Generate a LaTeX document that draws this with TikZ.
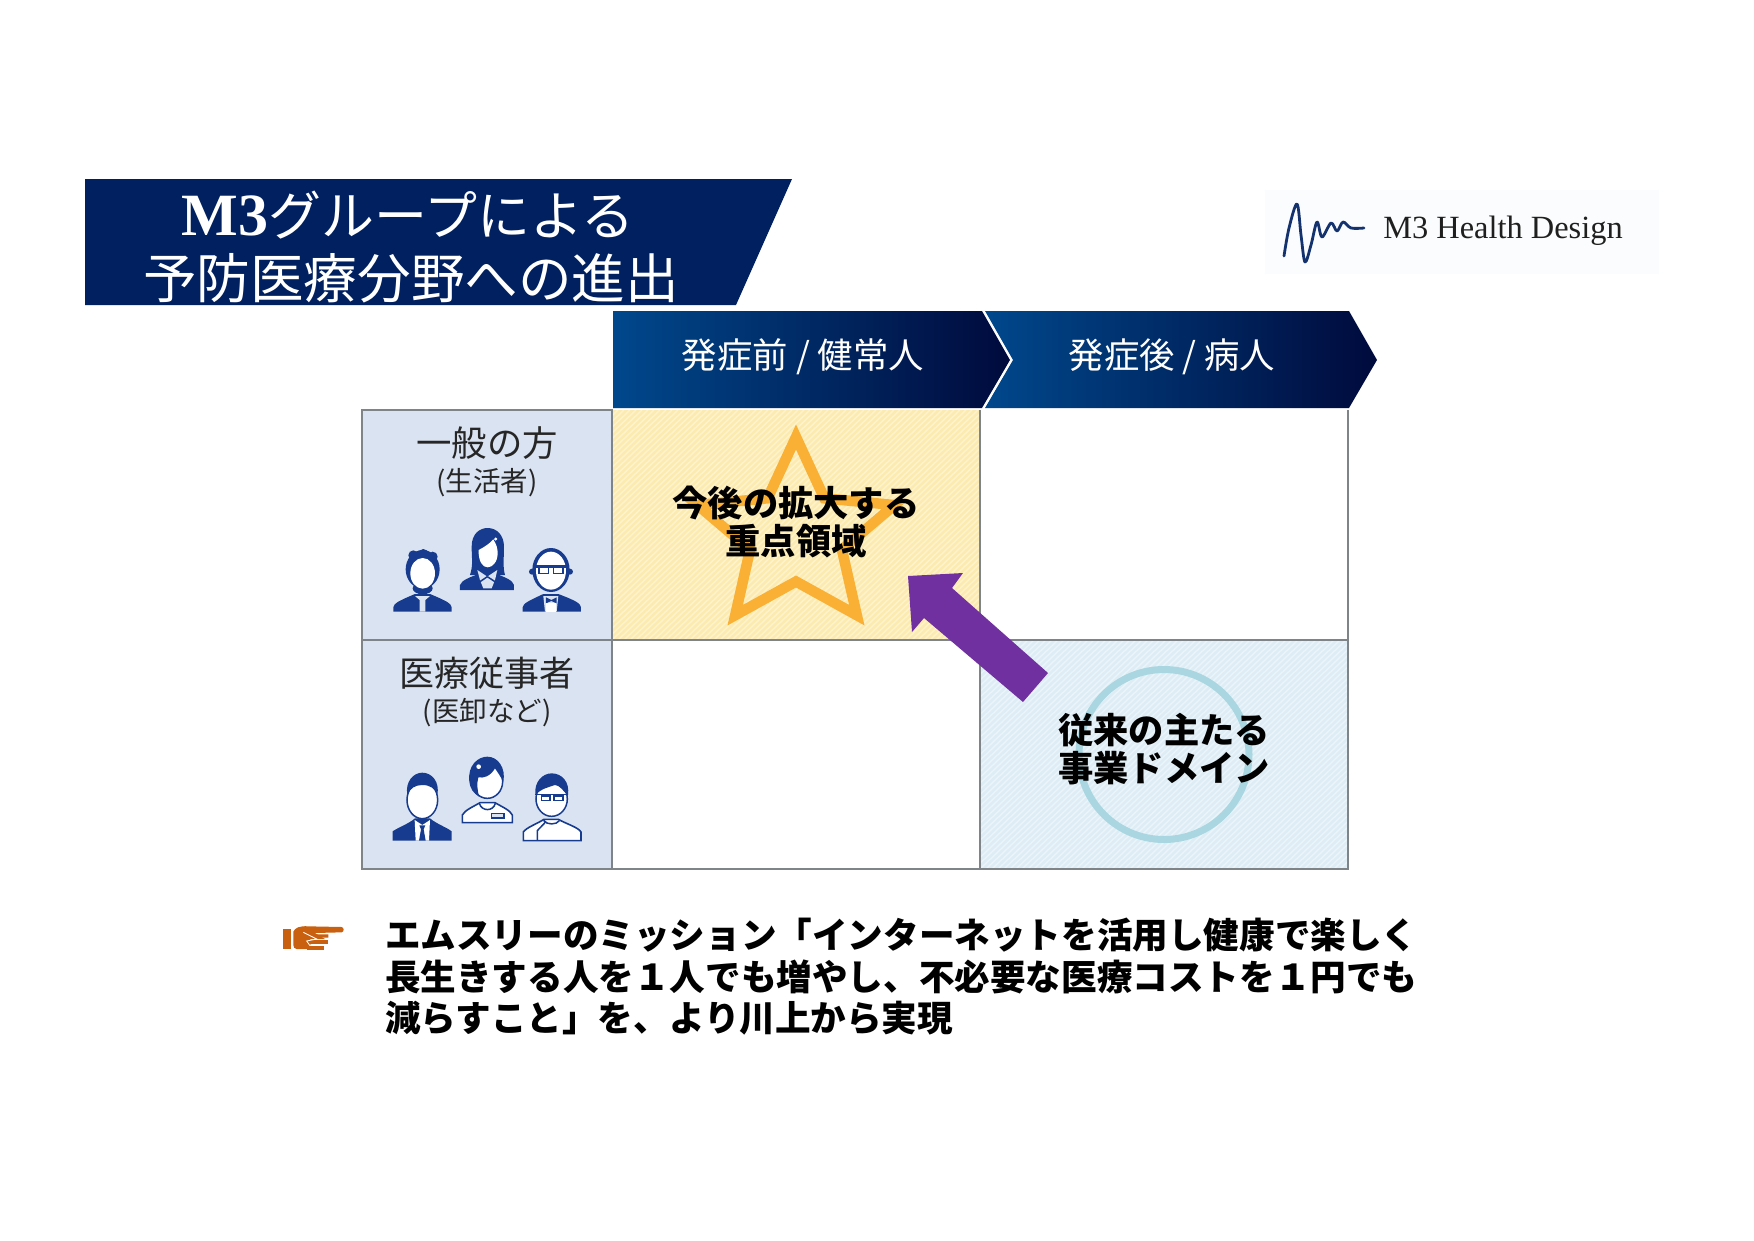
\documentclass[tikz,border=0pt]{standalone}
\usepackage{fontspec}
\setmainfont{Noto Sans CJK JP}
\newfontfamily\logofont{Liberation Serif}
\usetikzlibrary{calc}
\definecolor{banner}{HTML}{00205F}
\definecolor{chevA}{HTML}{00488C}
\definecolor{chevB}{HTML}{003070}
\definecolor{chevC}{HTML}{000A3C}
\definecolor{gridline}{HTML}{7F8488}
\definecolor{headcell}{HTML}{DAE3F1}
\definecolor{yellowcell}{HTML}{FCEBB0}
\definecolor{yellowline}{HTML}{FFF3CC}
\definecolor{bluecell}{HTML}{DEEDF5}
\definecolor{blueline}{HTML}{EAF4F9}
\definecolor{starcol}{HTML}{FAB034}
\definecolor{ringcol}{HTML}{A9D6E0}
\definecolor{arrowcol}{HTML}{7030A0}
\definecolor{people}{HTML}{173C8F}
\definecolor{handcol}{HTML}{C9600F}
\definecolor{logoblue}{HTML}{14336E}
\definecolor{logobg}{HTML}{FBFCFD}
\newcommand\fsz[1]{\fontsize{#1}{#1}\selectfont}
\tikzset{
  x=1pt,y=-1pt,
  txt/.style={inner sep=0pt,outer sep=0pt,align=center},
  gridstroke/.style={draw=gridline,line width=1.8pt},
  chevfill/.style={left color=chevA,middle color=chevB,right color=chevC,shading angle=90},
  poutline/.style={draw=people,line width=1.6pt,fill=white},
  pstroke/.style={draw=people,line width=1.5pt},
  pscope/.style={x=0.3333pt,y=-0.3333pt},
}
\begin{document}
\begin{tikzpicture}
\useasboundingbox (0,0) rectangle (1754,1240);
\fill[white] (0,0) rectangle (1754,1240);
% title banner
\fill[banner] (85,179) -- (792,179) -- (736,305) -- (85,305) -- cycle;
\node[txt,text=white] (t1) at (408,215) {\fsz{53}{\logofont\bfseries\fsz{60}M3}グループによる};
\node[txt,text=white] (t2) at (411,278.5) {\fsz{53.6}予防医療分野への進出};
% logo
\fill[logobg] (1265,190) rectangle (1659,274);
\draw[logoblue,line width=2.8pt,line cap=round,line join=round]
  plot[smooth,tension=0.55] coordinates {(1284,256) (1289,228) (1297,204) (1301,235) (1305,262) (1311,245) (1317,222) (1322,237) (1331,223) (1337,231) (1343,222) (1351,228) (1364,228)};
\node[txt,text=black!88] (logo) at (1503,231) {\logofont\fsz{32.4}M3 Health Design};
% chevrons
\shade[chevfill] (613,311) -- (982,311) -- (1010,360) -- (982,408) -- (613,408) -- cycle;
\shade[chevfill] (985,311) -- (1349,311) -- (1377,360) -- (1349,408) -- (985,408) -- (1013,360) -- cycle;
\draw[white,line width=1.6pt] (983,310) -- (1011.5,360) -- (983,409);
\node[txt,text=white] (h1) at (803,357) {\fsz{35.4}発症前 / 健常人};
\node[txt,text=white] (h2) at (1172,357) {\fsz{35.4}発症後 / 病人};
% cells
\fill[headcell] (362,410) rectangle (612,869);
\fill[yellowcell] (612,410) rectangle (980,640);
\begin{scope}
\clip (612,410) rectangle (980,640);
\foreach \k in {0,6,...,640}{\draw[yellowline,line width=1.4pt] (612+\k-240,640) -- (612+\k,410);}
\end{scope}
\fill[bluecell] (980,640) rectangle (1348,869);
\begin{scope}
\clip (980,640) rectangle (1348,869);
\foreach \k in {0,6,...,640}{\draw[blueline,line width=1.4pt] (980+\k-240,869) -- (980+\k,640);}
\end{scope}
% star
\draw[starcol,line width=10.5pt,miter limit=10,line join=miter]
 (796,437)
 \foreach \a in {1,...,9}{ -- ({796+1.05*(mod(\a,2)==1?46:98.5)*sin(36*\a)},{535.5-(mod(\a,2)==1?46:98.5)*cos(36*\a)}) } -- cycle;
% ring
\draw[ringcol,line width=7pt] (1164,754.5) circle (85);
% grid
\draw[gridstroke] (362,410) rectangle (612,869);
\draw[gridstroke] (612,869) -- (1348,869) -- (1348,410);
\draw[gridstroke] (362,640) -- (1348,640);
\draw[gridstroke] (980,410) -- (980,869);
% arrow
\fill[arrowcol] (908,576) -- (963,573) -- (952,588) -- (1048,673) -- (1023,702) -- (924,618) -- (912,632) -- cycle;
% row labels
\node[txt,text=black!85] (r1) at (487,443) {\fsz{35.4}一般の方};
\node[txt,text=black!85] (r1b) at (487,483) {\fsz{27.5}(生活者)};
\node[txt,text=black!85] (r2) at (487,673) {\fsz{35}医療従事者};
\node[txt,text=black!85] (r2b) at (487,713) {\fsz{27.5}(医卸など)};
% cell labels
\node[txt,text=black] (c1) at (796,503) {\fsz{35.3}\bfseries 今後の拡大する};
\node[txt,text=black] (c2) at (796,541) {\fsz{35.3}\bfseries 重点領域};
\node[txt,text=black] (d1) at (1164,730) {\fsz{35.3}\bfseries 従来の主たる};
\node[txt,text=black] (d2) at (1164,768) {\fsz{35.3}\bfseries 事業ドメイン};
% bottom text
\node[txt,anchor=west,text=black] (b1) at (385,935) {\fsz{35.6}\bfseries エムスリーのミッション「インターネットを活用し健康で楽しく};
\node[txt,anchor=west,text=black] (b2) at (385,977) {\fsz{35.6}\bfseries 長生きする人を１人でも増やし、不必要な医療コストを１円でも};
\node[txt,anchor=west,text=black] (b3) at (385,1018) {\fsz{35.6}\bfseries 減らすこと」を、より川上から実現};
% hand
\begin{scope}[shift={(275,915)},pscope]
\fill[handcol] (25,42) rectangle (48,102);
\fill[handcol] (55,50) .. controls (60,38) and (75,32) .. (100,34) -- (200,36) .. controls (208,38) and (208,50) .. (200,52) -- (120,54) -- (150,72) -- (105,72) -- (110,80) -- (100,102) -- (65,102) .. controls (58,102) and (55,96) .. (55,90) -- cycle;
\fill[handcol] (115,58) -- (160,58) -- (160,68) -- (130,68) -- cycle;
\fill[handcol] (105,76) rectangle (160,86);
\fill[handcol] (95,94) -- (148,94) -- (148,106) -- (95,106) -- cycle;
\draw[white,line width=0.8pt] (85,52) -- (125,72) -- (95,78) -- (105,92);
\end{scope}
% people: general public
\begin{scope}[shift={(380,520)},pscope]
  % man
  \fill[people] (40,275) -- (40,262) .. controls (42,250) and (55,243) .. (105,222) -- (150,222) .. controls (200,243) and (213,250) .. (215,262) -- (215,275) -- cycle;
  \fill[headcell] (105,228) -- (150,228) -- (136,240) -- (136,275) -- (119,275) -- (119,240) -- cycle;
  \fill[people] (128,148) ellipse (51 and 58);
  \fill[people] (100,106) circle (15) (130,102) circle (15) (158,110) circle (15);
  \fill[people] (128,205) ellipse (30 and 18);
  \fill[white] (128,160) ellipse (37 and 46);
  % woman
  \fill[people] (240,210) -- (240,195) .. controls (245,180) and (270,172) .. (300,160) -- (345,160) .. controls (375,172) and (398,180) .. (402,195) -- (402,210) -- cycle;
  \fill[people] (275,80) .. controls (275,40) and (300,24) .. (323,24) .. controls (350,24) and (372,45) .. (372,80) .. controls (372,115) and (368,140) .. (375,165) -- (270,165) .. controls (280,135) and (275,115) .. (275,80) -- cycle;
  \fill[white] (296,90) .. controls (315,80) and (330,70) .. (340,58) .. controls (350,75) and (353,85) .. (353,100) .. controls (353,125) and (338,142) .. (323,142) .. controls (308,142) and (295,125) .. (296,90) -- cycle;
  \fill[headcell] (292,150) -- (322,170) -- (352,150) -- (345,180) -- (335,205) -- (310,205) -- (300,180) -- cycle;
  \draw[pstroke] (322,170) -- (300,185) (322,170) -- (345,185);
  \fill[white] (347,57) circle (5);
  % old man
  \fill[people] (428,275) -- (428,262) .. controls (430,250) and (445,243) .. (490,222) -- (535,222) .. controls (590,243) and (601,250) .. (603,262) -- (603,275) -- cycle;
  \fill[headcell] (490,228) -- (535,228) -- (530,275) -- (495,275) -- cycle;
  \fill[people] (498,232) -- (514,240) -- (530,232) -- (530,250) -- (514,243) -- (498,250) -- cycle;
  \fill[white] (497,248) rectangle (529,275);
  \fill[people] (456,155) circle (9) (570,155) circle (9);
  \fill[people] (513,150) ellipse (56 and 66);
  \fill[white] (513,152) ellipse (45 and 57);
  \fill[people] (474,138) rectangle (508,163);
  \fill[people] (518,138) rectangle (552,163);
  \fill[people] (458,136) rectangle (568,144);
  \fill[white] (480,145) rectangle (503,158);
  \fill[white] (523,145) rectangle (547,158);
\end{scope}
% people: medical staff
\begin{scope}[shift={(380,750)},pscope]
  % suit man
  \fill[people] (38,272) -- (38,244) .. controls (55,232) and (85,222) .. (105,205) -- (150,205) .. controls (170,222) and (200,232) .. (215,244) -- (215,272) -- cycle;
  \fill[white] (104,210) -- (127,225) -- (150,210) -- (147,272) -- (107,272) -- cycle;
  \fill[people] (118,226) -- (136,226) -- (131,238) -- (137,272) -- (117,272) -- (123,238) -- cycle;
  \fill[white] (127,150) ellipse (45 and 55);
  \fill[people] (82,135) .. controls (75,95) and (100,68) .. (127,68) .. controls (155,68) and (180,95) .. (172,135) .. controls (165,115) and (150,105) .. (127,105) .. controls (105,105) and (90,115) .. (82,135) -- cycle;
  \draw[people,line width=1.5pt] (127,150) ellipse (46 and 56);
  % nurse
  \draw[poutline] (247,218) -- (247,195) .. controls (255,180) and (280,170) .. (300,158) -- (345,158) .. controls (365,170) and (390,180) .. (397,195) -- (397,218) -- cycle;
  \draw[pstroke] (298,160) .. controls (305,185) and (340,185) .. (346,160);
  \draw[people,line width=1.2pt,fill=headcell] (335,191) rectangle (372,204);
  \draw[people,line width=1.5pt,fill=white] (322,95) ellipse (46 and 50);
  \fill[people] (268,95) .. controls (262,45) and (295,20) .. (322,20) .. controls (355,20) and (378,55) .. (370,95) .. controls (362,80) and (352,65) .. (345,55) .. controls (330,80) and (310,85) .. (295,82) .. controls (290,100) and (292,125) .. (298,140) .. controls (280,130) and (270,115) .. (268,95) -- cycle;
  \fill[white] (296,50) circle (7);
  % doctor
  \draw[poutline] (430,272) -- (430,246) .. controls (440,232) and (470,222) .. (492,208) -- (535,208) .. controls (560,222) and (595,232) .. (603,246) -- (603,272) -- cycle;
  \draw[pstroke] (492,210) -- (495,218) -- (472,242) -- (472,272);
  \draw[pstroke] (492,212) .. controls (500,225) and (530,225) .. (538,212);
  \draw[people,line width=1.5pt,fill=white] (515,147) ellipse (47 and 52);
  \fill[people] (466,135) .. controls (462,95) and (488,70) .. (515,70) .. controls (545,70) and (570,95) .. (564,135) .. controls (550,125) and (540,105) .. (525,105) .. controls (505,112) and (485,115) .. (466,135) -- cycle;
  \draw[people,line width=1.5pt,fill=white] (484,138) rectangle (510,152);
  \draw[people,line width=1.5pt,fill=white] (522,138) rectangle (549,152);
  \draw[people,line width=1.5pt] (465,134) -- (565,134);
\end{scope}
\end{tikzpicture}
\end{document}
